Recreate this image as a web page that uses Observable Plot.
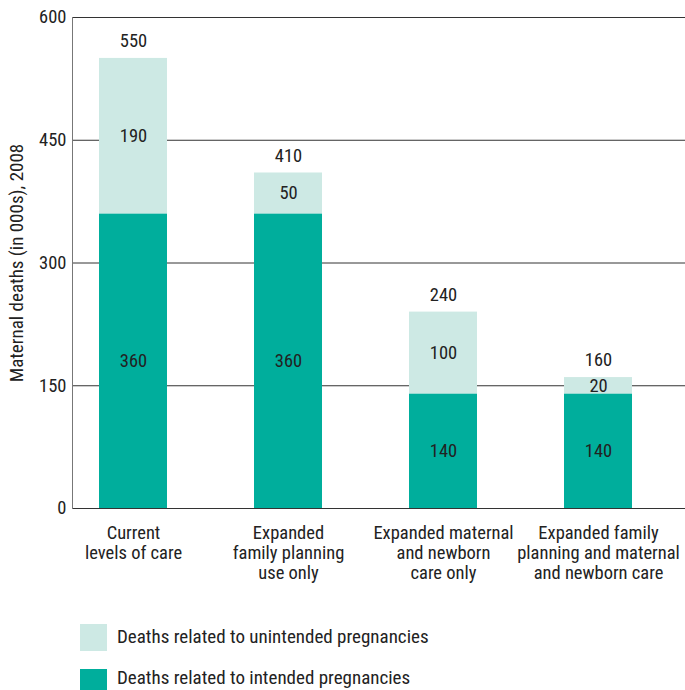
<!DOCTYPE html>
<html>
<head>
<meta charset="utf-8">
<script src="https://cdn.jsdelivr.net/npm/d3@7"></script>
<script src="https://cdn.jsdelivr.net/npm/@observablehq/plot@0.6"></script>
<style>
  html, body { margin: 0; padding: 0; background: #fff; overflow: hidden; }
  body { font-family: "Liberation Sans Narrow", "Roboto Condensed", "DejaVu Sans Condensed", sans-serif; color: #222; }
  #chart svg { display: block; }
  .legend { position: relative; height: 90px; width: 685px; overflow: hidden; }
  .legend .sw { position: absolute; left: 80px; width: 27px; height: 27px; }
  .legend .lt { position: absolute; left: 117px; font-size: 19px; line-height: 16px; white-space: nowrap; }
</style>
</head>
<body>
<div id="chart"></div>
<div class="legend" id="legend"></div>
<script>
const categories = ["Current levels of care", "Expanded family planning use only", "Expanded maternal and newborn care only", "Expanded family planning and maternal and newborn care"];
const tickLabels = ["Current\nlevels of care", "Expanded\nfamily planning\nuse only", "Expanded maternal\nand newborn\ncare only", "Expanded family\nplanning and maternal\nand newborn care"];
const intended = [360, 360, 140, 140];
const unintended = [190, 50, 100, 20];
const totals = [550, 410, 240, 160];
const yTicks = [0, 150, 300, 450, 600];
const gridTicks = [150, 300, 450, 600];
const series = ["Deaths related to unintended pregnancies", "Deaths related to intended pregnancies"];
const colors = ["#cde9e4", "#00ae9c"];
const yLabel = "Maternal deaths (in 000s), 2008";

const rows = [];
categories.forEach((c, i) => rows.push({cat: c, series: series[1], value: intended[i]}));
categories.forEach((c, i) => rows.push({cat: c, series: series[0], value: unintended[i]}));
const totalRows = categories.map((c, i) => ({cat: c, total: totals[i]}));
const labelOf = new Map(categories.map((c, i) => [c, tickLabels[i]]));

const font = '"Liberation Sans Narrow", "Roboto Condensed", "DejaVu Sans Condensed", sans-serif';
const fs = 18.5;

const chart = Plot.plot({
  width: 685,
  height: 600,
  marginLeft: 72,
  marginRight: 0,
  marginTop: 17,
  marginBottom: 92,
  style: {fontFamily: font, fontSize: fs + "px", color: "#222", background: "#fff", overflow: "visible"},
  x: {domain: categories, paddingInner: 0.563, paddingOuter: 0.25, align: 0.334},
  y: {domain: [0, 600]},
  color: {domain: series, range: colors},
  marks: [
    Plot.ruleY(gridTicks, {stroke: "#333", strokeWidth: 1}),
    Plot.barY(rows, {x: "cat", y: "value", fill: "series"}),
    Plot.ruleY([0], {stroke: "#333", strokeWidth: 1.2}),
    Plot.frame({anchor: "left", stroke: "#777"}),
    Plot.text(rows, Plot.stackY({x: "cat", y: "value", text: "value", fill: "#222", fontSize: fs})),
    Plot.text(totalRows, {x: "cat", y: "total", text: "total", dy: -17, fill: "#222", fontSize: fs}),
    Plot.axisY(yTicks, {tickSize: 0, tickPadding: 6, fontSize: fs, fill: "#222", label: null}),
    Plot.axisY([], {tickSize: 0, fontSize: 19, fill: "#222", label: yLabel, labelAnchor: "center", labelOffset: 63, labelArrow: false}),
    Plot.axisX({tickSize: 0, tickPadding: 16, fontSize: fs, fill: "#222", lineHeight: 1.08, tickFormat: d => labelOf.get(d), label: null})
  ]
});
document.getElementById("chart").appendChild(chart);

const legend = document.getElementById("legend");
const swTops = [24, 69];
const txtTops = [29, 70];
[0, 1].forEach((k) => {
  const sw = document.createElement("div");
  sw.className = "sw";
  sw.style.top = swTops[k] + "px";
  sw.style.background = colors[k];
  const t = document.createElement("div");
  t.className = "lt";
  t.style.top = txtTops[k] + "px";
  t.textContent = series[k];
  legend.appendChild(sw);
  legend.appendChild(t);
});
</script>
</body>
</html>
